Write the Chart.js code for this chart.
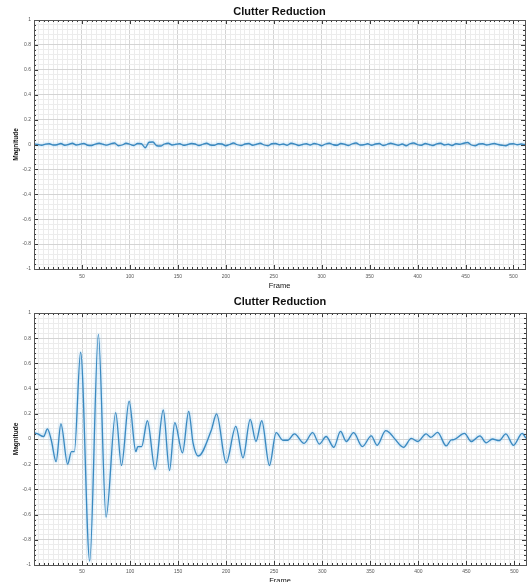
<!DOCTYPE html>
<html>
<head>
<meta charset="utf-8">
<script src="https://cdn.jsdelivr.net/npm/chart.js@4/dist/chart.umd.min.js"></script>
<style>
  html, body { margin: 0; padding: 0; background: #fff; overflow: hidden; }
  canvas { display: block; }
</style>
</head>
<body>
<canvas id="top" width="530" height="291"></canvas>
<canvas id="bottom" width="530" height="295"></canvas>
<script>
// ---------------- DATA ----------------
const chartTitle = 'Clutter Reduction';
const xAxisTitle = 'Frame';
const yAxisTitle = 'Magnitude';
const xMin = 0, xMax = 512, xMinorStep = 5, xMajorStep = 50;
const yMin = -1, yMax = 1, yMinorStep = 0.04, yMajorStep = 0.2;

// Upper panel: residual after clutter reduction (near zero)
const topFrames = [0,4,8,12,16,20,24,28,32,36,40,44,48,52,56,60,64,68,72,76,80,84,88,92,96,100,
  104,108,112,116,120,124,128,132,136,140,144,148,152,156,160,164,168,172,176,180,184,188,192,196,200,
  204,208,212,216,220,224,228,232,236,240,244,248,252,256,260,264,268,272,276,280,284,288,292,296,300,
  304,308,312,316,320,324,328,332,336,340,344,348,352,356,360,364,368,372,376,380,384,388,392,396,400,
  404,408,412,416,420,424,428,432,436,440,444,448,452,456,460,464,468,472,476,480,484,488,492,496,500,
  504,508,512];
const topValues = [0.004,0.0,-0.006,0.003,0.006,-0.004,-0.002,0.008,-0.006,0.0,0.01,-0.004,0.002,0.008,-0.006,-0.008,
  0.004,0.01,0.002,-0.005,0.006,0.012,-0.01,-0.004,0.01,0.002,-0.008,0.008,0.006,-0.026,0.018,0.02,
  -0.01,-0.012,0.004,0.01,-0.004,0.002,0.006,-0.006,0.0,0.008,0.004,-0.008,0.002,0.01,-0.004,-0.006,
  0.006,0.004,-0.01,0.0,0.012,-0.002,-0.008,0.004,0.008,-0.006,0.002,0.01,-0.004,-0.01,0.006,0.008,
  -0.002,0.004,-0.006,0.01,0.004,-0.008,0.0,0.006,-0.004,0.008,0.002,-0.01,0.004,0.01,-0.002,-0.006,
  0.008,0.002,-0.008,0.006,0.012,-0.004,-0.002,0.006,-0.006,0.004,0.008,-0.008,0.0,0.01,0.002,-0.006,
  0.004,-0.01,0.006,0.012,-0.002,-0.006,0.008,0.0,-0.008,0.006,0.01,-0.004,0.002,-0.008,0.006,0.002,
  0.01,0.016,-0.004,-0.01,0.004,0.006,-0.004,0.002,0.008,0.0,-0.006,-0.01,0.004,0.006,-0.002,0.004,0.0];

// Lower panel: signal (peaks and troughs)
const bottomFrames = [0,4,10,14,18,23,28,35,39,42,48.5,58,67,75,85,91,99,106,108,112,118,126,134.5,141,146.5,
  154.5,161,165.5,171,184.5,190,200,210,217.5,225,231,237,245,252,259,264,271,281,290,297,304,312,319,325,
  332.6,341.7,351,357,366,370,375,384.6,392.6,399.5,408,413,420,429,434,437,448,455,464,470.6,477,484,491,
  499,508,512];
const bottomValues = [0.05,0.04,0.02,0.08,-0.01,-0.18,0.12,-0.2,-0.1,-0.1,0.69,-0.97,0.83,-0.62,0.21,-0.21,0.3,-0.1,
  -0.06,-0.06,0.145,-0.24,0.23,-0.25,0.13,-0.11,0.22,-0.03,-0.135,0.07,0.2,-0.19,0.1,-0.15,0.155,-0.02,0.145,
  -0.21,0.05,-0.01,-0.01,0.04,-0.035,0.05,-0.04,0.02,-0.066,0.06,-0.02,0.05,-0.06,0.025,-0.05,0.066,0.05,
  0.005,-0.066,0.005,-0.02,0.04,0.013,0.053,-0.055,-0.008,-0.005,0.045,-0.02,0.025,-0.03,0.0,-0.013,0.04,
  -0.05,0.045,0.005];

// ---------------- STYLE ----------------
const sansFont = '"Liberation Sans", Arial, sans-serif';
const lineColor = '#3a89c0';
const majorGrid = '#d4d4d4';
const minorGrid = '#ececec';

const isMajorX = v => Math.abs(v % xMajorStep) < 1e-6;
const isMajorY = v => Math.round(v * 100) % Math.round(yMajorStep * 100) === 0;

const framePlugin = {
  id: 'frameMarks',
  beforeDatasetsDraw(chart) {
    const ctx = chart.ctx;
    ctx.save();
    ctx.shadowColor = 'rgba(120,190,240,0.9)';
    ctx.shadowBlur = 3;
  },
  afterDatasetsDraw(chart) {
    chart.ctx.restore();
  },
  afterDraw(chart) {
    const { ctx, chartArea: a, scales: { x, y } } = chart;
    ctx.save();
    ctx.strokeStyle = '#3a3a3a';
    ctx.lineWidth = 1;
    ctx.beginPath();
    x.ticks.forEach(t => {
      const px = Math.round(x.getPixelForValue(t.value)) + 0.5;
      const len = isMajorX(t.value) ? 4 : 2;
      ctx.moveTo(px, a.bottom); ctx.lineTo(px, a.bottom - len);
      ctx.moveTo(px, a.top); ctx.lineTo(px, a.top + len);
    });
    y.ticks.forEach(t => {
      const py = Math.round(y.getPixelForValue(t.value)) + 0.5;
      const len = isMajorY(t.value) ? 4 : 2;
      ctx.moveTo(a.left, py); ctx.lineTo(a.left + len, py);
      ctx.moveTo(a.right, py); ctx.lineTo(a.right - len, py);
    });
    ctx.stroke();
    ctx.strokeStyle = '#555';
    ctx.strokeRect(Math.round(a.left) + 0.5, Math.round(a.top) + 0.5, Math.round(a.width), Math.round(a.height));
    ctx.restore();
  }
};

function makeChart(id, frames, values, opts) {
  const points = frames.map((f, i) => ({ x: f, y: values[i] }));
  return new Chart(document.getElementById(id), {
    type: 'line',
    data: {
      datasets: [{
        data: points,
        borderColor: lineColor,
        borderWidth: 1.3,
        pointRadius: 0,
        fill: false,
        cubicInterpolationMode: 'monotone'
      }]
    },
    options: {
      responsive: false,
      animation: false,
      events: [],
      layout: { padding: { left: 0, right: 4, top: 0, bottom: 0 } },
      plugins: {
        legend: { display: false },
        tooltip: { enabled: false },
        title: {
          display: true,
          fullSize: false,
          text: chartTitle,
          color: '#111',
          font: { family: sansFont, size: 11, weight: 'bold', lineHeight: 1.2 },
          padding: opts.titlePadding
        }
      },
      scales: {
        x: {
          type: 'linear',
          min: xMin, max: xMax,
          afterFit: s => { s.height = opts.xHeight; },
          grid: {
            drawTicks: false,
            color: c => (c.tick && isMajorX(c.tick.value)) ? majorGrid : minorGrid,
            lineWidth: 1
          },
          border: { display: false },
          ticks: {
            stepSize: xMinorStep,
            autoSkip: false,
            maxRotation: 0, minRotation: 0,
            padding: opts.xTickPad,
            color: '#555',
            font: { family: sansFont, size: 5 },
            callback: v => (v > 0 && isMajorX(v)) ? String(v) : ''
          },
          title: {
            display: true,
            text: xAxisTitle,
            color: '#111',
            font: { family: sansFont, size: 7.5, lineHeight: 1 },
            padding: { top: 0, bottom: 1 }
          }
        },
        y: {
          min: yMin, max: yMax,
          afterFit: s => { s.width = 34; },
          grid: {
            drawTicks: false,
            color: c => (c.tick && isMajorY(c.tick.value)) ? majorGrid : minorGrid,
            lineWidth: 1
          },
          border: { display: false },
          ticks: {
            stepSize: yMinorStep,
            autoSkip: false,
            padding: 3,
            color: '#555',
            font: { family: sansFont, size: 5 },
            callback: v => {
              const r = Math.round(v * 100);
              return r % Math.round(yMajorStep * 100) === 0 ? String(r / 100) : '';
            }
          },
          title: {
            display: true,
            text: yAxisTitle,
            color: '#111',
            font: { family: sansFont, size: 6.5, weight: 'bold', lineHeight: 1.2 },
            padding: { top: 12, bottom: 0 }
          }
        }
      }
    },
    plugins: [framePlugin]
  });
}

makeChart('top', topFrames, topValues, { titlePadding: { top: 5, bottom: 1.8 }, xHeight: 22, xTickPad: 5 });
makeChart('bottom', bottomFrames, bottomValues, { titlePadding: { top: 4, bottom: 4.8 }, xHeight: 21, xTickPad: 4 });
</script>
</body>
</html>
